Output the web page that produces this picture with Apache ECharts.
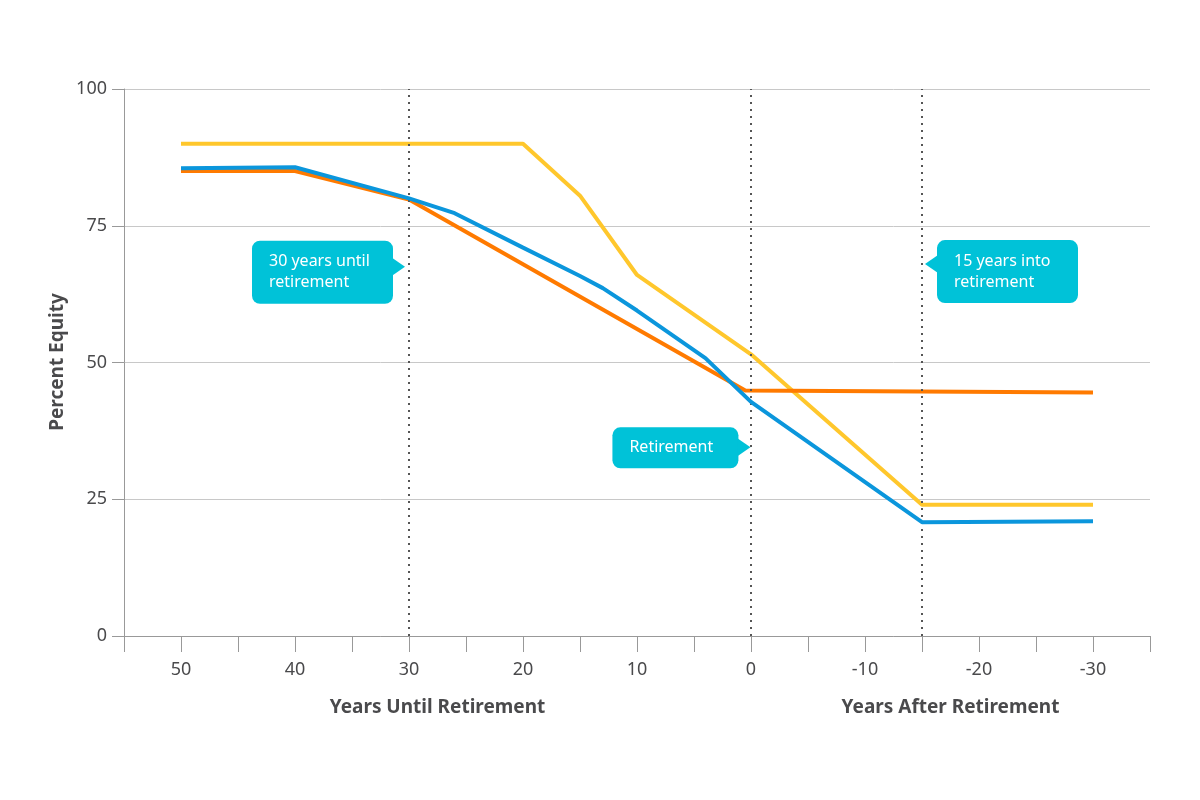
<!DOCTYPE html>
<html>
<head>
<meta charset="utf-8">
<script src="https://cdn.jsdelivr.net/npm/echarts@6/dist/echarts.min.js"></script>
<style>
html,body{margin:0;padding:0;background:#fff;}
#chart{width:1200px;height:800px;}
</style>
</head>
<body>
<div id="chart"></div>
<script>
// ---- data ----
const yellowYears = [50, 20, 15, 10, 0, -15, -30];
const yellowEquity = [90, 90, 80.5, 66, 51.5, 24, 24];

const blueYears = [50, 40, 30, 26, 20, 15, 13, 10, 4, 0, -15, -30];
const blueEquity = [85.5, 85.7, 80, 77.3, 71, 65.8, 63.6, 59.5, 50.8, 42.8, 20.8, 21];

const orangeYears = [50, 40, 30, 0.5, -30];
const orangeEquity = [85, 85, 79.8, 44.9, 44.5];

const markerYears = [30, 0, -15];
const yTicks = [0, 25, 50, 75, 100];
const calloutTexts = ['30 years until\nretirement', 'Retirement', '15 years into\nretirement'];
const calloutAnchors = [[30, 67.5], [-0.3, 34.5], [-15, 68]];

const TEXT = '#4a4a4c';
const FONT = '"Noto Sans", "Open Sans", sans-serif';
const TEAL = '#00C2D8';

function pairs(xs, ys) { return xs.map((x, i) => [x, ys[i]]); }

const chart = echarts.init(document.getElementById('chart'), null, {renderer: 'canvas'});

chart.setOption({
  animation: false,
  backgroundColor: '#fff',
  grid: {left: 124, right: 50, top: 89, bottom: 164, containLabel: false},
  xAxis: {
    type: 'value', inverse: true, min: -35, max: 55, interval: 5,
    axisLine: {show: true, onZero: false, lineStyle: {color: '#999', width: 1}},
    axisTick: {show: true, length: 16, lineStyle: {color: '#999', width: 1}},
    splitLine: {show: false},
    axisLabel: {
      margin: 25, color: TEXT, fontFamily: FONT, fontSize: 18,
      formatter: v => (v % 10 === 0 ? String(v) : '')
    }
  },
  yAxis: {
    type: 'value', min: yTicks[0], max: yTicks[yTicks.length - 1], interval: 25,
    axisLine: {show: true, onZero: false, lineStyle: {color: '#999', width: 1}},
    axisTick: {show: true, length: 12, lineStyle: {color: '#999'}},
    splitLine: {show: true, lineStyle: {color: '#c8c8c8', width: 1}},
    axisLabel: {margin: 17, color: TEXT, fontFamily: FONT, fontSize: 18}
  },
  series: [
    {
      name: 'Markers', type: 'line', data: [], silent: true,
      markLine: {
        silent: true, symbol: ['none', 'none'], label: {show: false},
        lineStyle: {color: '#555', type: [2, 5], width: 2},
        data: markerYears.map(v => ({xAxis: v}))
      }
    },
    {
      name: 'Path A', type: 'line', data: pairs(yellowYears, yellowEquity),
      showSymbol: false, lineStyle: {color: '#FFC72C', width: 4}, itemStyle: {color: '#FFC72C'}, z: 3
    },
    {
      name: 'Path C', type: 'line', data: pairs(orangeYears, orangeEquity),
      showSymbol: false, lineStyle: {color: '#FF7A00', width: 4}, itemStyle: {color: '#FF7A00'}, z: 4
    },
    {
      name: 'Path B', type: 'line', data: pairs(blueYears, blueEquity),
      showSymbol: false, lineStyle: {color: '#0B96DC', width: 4}, itemStyle: {color: '#0B96DC'}, z: 5
    }
  ]
});

// ---- callouts and axis names ----
function px(pt) { return chart.convertToPixel({gridIndex: 0}, pt); }

function callout(text, anchor, side, w, h) {
  const p = px(anchor);
  const tipX = side === 'right' ? p[0] - 4 : p[0] + 3;
  const tipY = p[1];
  const boxX = side === 'right' ? tipX - 12 - w : tipX + 12;
  const boxY = tipY - (side === 'right' && h > 50 ? 26 : (h > 50 ? 24 : 20));
  const triBase = side === 'right' ? boxX + w - 1 : boxX + 1;
  return [
    {type: 'rect', shape: {x: boxX, y: boxY, width: w, height: h, r: 8}, style: {fill: TEAL}, z: 10},
    {type: 'polygon', shape: {points: [[triBase, tipY - 9], [tipX, tipY], [triBase, tipY + 9]]}, style: {fill: TEAL}, z: 10},
    {type: 'text', x: boxX + 17, y: boxY + h / 2, z: 11,
     style: {text: text, fill: '#fff', font: '16px ' + FONT, lineHeight: 21, verticalAlign: 'middle', align: 'left'}}
  ];
}

const midUntil = px([27.5, 0])[0];
const midAfter = px([-17.5, 0])[0];

chart.setOption({
  graphic: [].concat(
    callout(calloutTexts[0], calloutAnchors[0], 'right', 141, 63),
    callout(calloutTexts[1], calloutAnchors[1], 'right', 126, 41),
    callout(calloutTexts[2], calloutAnchors[2], 'left', 141, 63),
    [
      {type: 'text', x: midUntil, y: 708, style: {text: 'Years Until Retirement', fill: TEXT, font: 'bold 19px ' + FONT, align: 'center', verticalAlign: 'middle'}},
      {type: 'text', x: midAfter, y: 708, style: {text: 'Years After Retirement', fill: TEXT, font: 'bold 19px ' + FONT, align: 'center', verticalAlign: 'middle'}},
      {type: 'text', x: 58, y: 362, rotation: Math.PI / 2, style: {text: 'Percent Equity', fill: TEXT, font: 'bold 19px ' + FONT, align: 'center', verticalAlign: 'middle'}}
    ]
  )
});
</script>
</body>
</html>
